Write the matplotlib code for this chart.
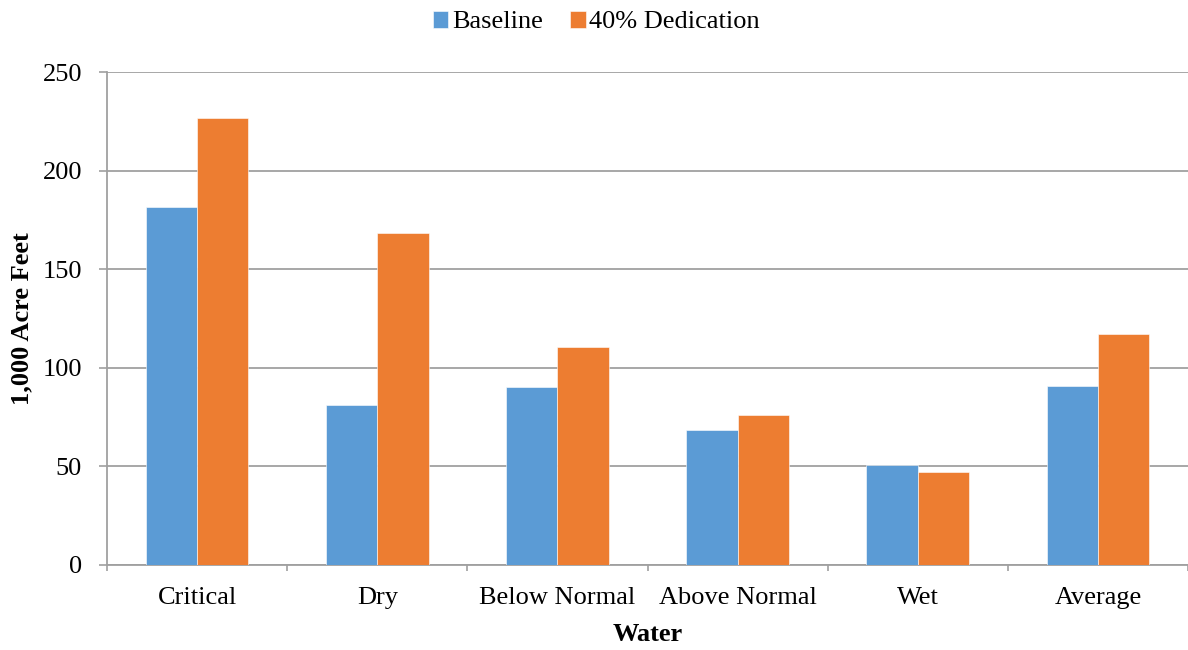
import numpy as np
import matplotlib.pyplot as plt

# Data (1,000 acre feet)
categories = ["Critical", "Dry", "Below Normal", "Above Normal", "Wet", "Average"]
baseline = [181.7, 81.1, 90.3, 68.2, 50.5, 90.9]
dedication = [226.9, 168.2, 110.5, 76.0, 47.0, 117.1]
series_names = ["Baseline", "40% Dedication"]

blue = "#5B9BD5"
orange = "#ED7D31"
grey = "#A0A0A0"

plt.rcParams["font.family"] = ["Liberation Serif", "DejaVu Serif"]
plt.rcParams["font.size"] = 19

fig = plt.figure(figsize=(11.88, 6.5), dpi=100)
ax = fig.add_axes([0.0901, 0.131, 0.9099, 0.758])

x = np.arange(len(categories)) + 0.5
w = 0.285
ax.bar(x - w / 2, baseline, w, color=blue, edgecolor="white", linewidth=0.4,
       label=series_names[0], zorder=3)
ax.bar(x + w / 2, dedication, w, color=orange, edgecolor="white", linewidth=0.4,
       label=series_names[1], zorder=3)

ax.set_xlim(0, len(categories))
ax.set_ylim(0, 250)
ax.set_yticks(np.arange(0, 251, 50))
ax.yaxis.grid(True, color=grey, linewidth=1.3, zorder=0)

# category boundaries get the tick marks, labels sit in the middle
ax.set_xticks(np.arange(len(categories) + 1))
ax.set_xticklabels([])
ax.set_xticks(x, minor=True)
ax.set_xticklabels(categories, minor=True)
ax.tick_params(axis="x", which="major", direction="out", length=4, width=1.2, color=grey)
ax.tick_params(axis="x", which="minor", length=0, pad=16)
ax.tick_params(axis="y", direction="out", length=6, width=1.2, color=grey, pad=12)

for side in ["top", "right"]:
    ax.spines[side].set_visible(False)
for side in ["left", "bottom"]:
    ax.spines[side].set_color(grey)
    ax.spines[side].set_linewidth(1.3)

ax.set_ylabel("1,000 Acre Feet", fontweight="bold", labelpad=7)
ax.set_xlabel("Water", fontweight="bold", labelpad=10)

fig.legend(loc="upper center", bbox_to_anchor=(0.502, 1.02), ncol=2, frameon=False,
           handlelength=0.6, handleheight=0.6, handletextpad=0.15, columnspacing=1.0)

fig.savefig("out.png", dpi=100)
